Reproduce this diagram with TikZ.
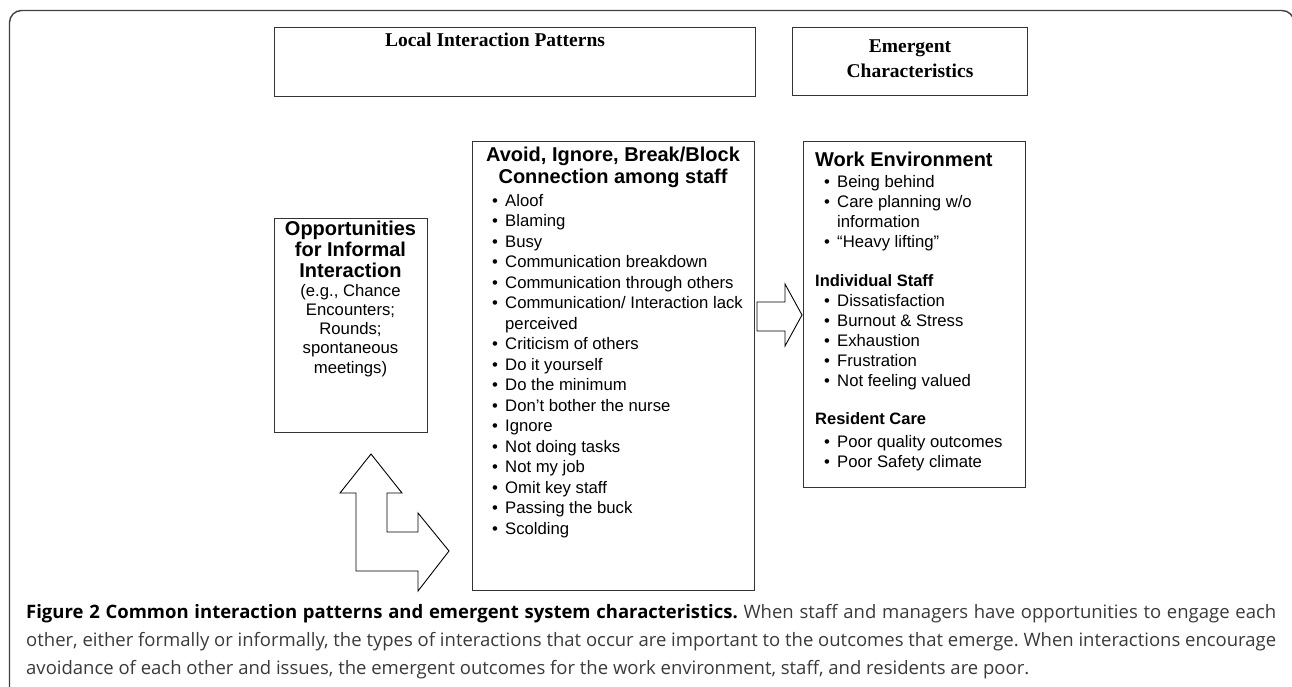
\documentclass[tikz,border=0pt]{standalone}
\usepackage{fontspec}
\setmainfont{Liberation Sans}
\newfontfamily\serifbox{Liberation Serif}
\newfontfamily\capfont{Open Sans}
\definecolor{boxline}{HTML}{333333}
\definecolor{capgrey}{HTML}{3A3A3A}
\tikzset{
  frame/.style={draw=black!75, line width=1.4pt, rounded corners=12pt},
  box/.style={draw=boxline, line width=1.2pt, inner sep=0pt, anchor=north west},
  fat/.style={draw=black, line width=0.9pt, fill=white, line join=miter},
  hdr/.style={font=\serifbox\fontsize{19.5}{25}\selectfont\bfseries, inner sep=0pt, anchor=base},
  ttl/.style={font=\fontsize{20}{22}\selectfont\bfseries, inner sep=0pt},
  sub/.style={font=\fontsize{16.5}{20}\selectfont\bfseries, inner sep=0pt, anchor=base west},
  itm/.style={font=\fontsize{16.7}{20}\selectfont, inner sep=0pt, anchor=base west},
  ctr/.style={font=\fontsize{16.7}{20}\selectfont, inner sep=0pt, anchor=base},
  bul/.style={font=\fontsize{16.7}{20}\selectfont, inner sep=0pt, anchor=base},
}
\newcommand\bitem[4]{\node[bul] (#1b) at (#2-10,#3) {•};\node[itm] (#1) at (#2,#3) {#4};}
\begin{document}
\begin{tikzpicture}[x=1pt,y=-1pt]
\useasboundingbox (0,0) rectangle (1292,686);
\clip (0,0) rectangle (1292,686);
% outer frame
\draw[frame] (9.5,720) -- (9.5,10.5) -- (1294,10.5) -- (1294,720);

% header boxes
\node[box, minimum width=481pt, minimum height=69pt] (lip) at (274,27) {};
\node[hdr] (liptxt) at (495,46) {Local Interaction Patterns};
\node[box, minimum width=235pt, minimum height=68pt] (emc) at (792,27) {};
\node[hdr] (emc1) at (910,52) {Emergent};
\node[hdr] (emc2) at (910,77) {Characteristics};

% left box
\node[box, minimum width=153pt, minimum height=214pt] (opp) at (274,218) {};
\node[ttl, anchor=base] (opp1) at (350.5,235) {Opportunities};
\node[ttl, anchor=base] (opp2) at (350.5,256) {for Informal};
\node[ttl, anchor=base] (opp3) at (350.5,277) {Interaction};
\node[ctr] (opp4) at (350.5,296) {(e.g., Chance};
\node[ctr] (opp5) at (350.5,315) {Encounters;};
\node[ctr] (opp6) at (350.5,334) {Rounds;};
\node[ctr] (opp7) at (350.5,353) {spontaneous};
\node[ctr] (opp8) at (350.5,373) {meetings)};

% middle box
\node[box, minimum width=282pt, minimum height=449pt] (mid) at (472,141) {};
\node[ttl, anchor=base] (mid1) at (613,161) {Avoid, Ignore, Break/Block};
\node[ttl, anchor=base] (mid2) at (613,183) {Connection among staff};
\bitem{m1}{505}{206}{Aloof}
\bitem{m2}{505}{226.5}{Blaming}
\bitem{m3}{505}{247}{Busy}
\bitem{m4}{505}{267.5}{Communication breakdown}
\bitem{m5}{505}{288}{Communication through others}
\bitem{m6}{505}{308.5}{Communication/ Interaction lack}
\node[itm] (m6c) at (505,329) {perceived};
\bitem{m7}{505}{349.5}{Criticism of others}
\bitem{m8}{505}{370}{Do it yourself}
\bitem{m9}{505}{390.5}{Do the minimum}
\bitem{m10}{505}{411}{Don't bother the nurse}
\bitem{m11}{505}{431.5}{Ignore}
\bitem{m12}{505}{452}{Not doing tasks}
\bitem{m13}{505}{472.5}{Not my job}
\bitem{m14}{505}{493}{Omit key staff}
\bitem{m15}{505}{513.5}{Passing the buck}
\bitem{m16}{505}{534}{Scolding}

% right box
\node[box, minimum width=222pt, minimum height=346pt] (res) at (803,141) {};
\node[ttl, anchor=base west] (r0) at (815,166) {Work Environment};
\bitem{r1}{837}{187}{Being behind}
\bitem{r2}{837}{207}{Care planning w/o}
\node[itm] (r2c) at (837,227) {information};
\bitem{r3}{837}{247}{“Heavy lifting”}
\node[sub] (r4) at (815,286) {Individual Staff};
\bitem{r5}{837}{306}{Dissatisfaction}
\bitem{r6}{837}{326}{Burnout \& Stress}
\bitem{r7}{837}{346}{Exhaustion}
\bitem{r8}{837}{366}{Frustration}
\bitem{r9}{837}{386}{Not feeling valued}
\node[sub] (r10) at (815,424) {Resident Care};
\bitem{r11}{837}{447}{Poor quality outcomes}
\bitem{r12}{837}{467}{Poor Safety climate}

% block arrow to the right
\draw[fat] (757,302) -- (785,302) -- (785,284) -- (802,315) -- (785,346) -- (785,331) -- (757,331) -- cycle;

% L-shaped double block arrow
\draw[fat] (371,454) -- (402,493) -- (387,493) -- (387,532) -- (418,532) -- (418,513)
  -- (449,551) -- (418,591) -- (418,571) -- (356,571) -- (356,493) -- (340,493) -- cycle;

% caption
\node[anchor=base west, inner sep=0pt, text width=1250pt, align=justify,
      font=\capfont\fontsize{18.5}{28}\selectfont, text=capgrey] (cap) at (26,618)
  {\frenchspacing\noindent{\bfseries\color{black}Figure 2 Common interaction patterns and emergent system characteristics.} When staff and managers have opportunities to engage each\linebreak other, either formally or informally, the types of interactions that occur are important to the outcomes that emerge. When interactions encourage\linebreak avoidance of each other and issues, the emergent outcomes for the work environment, staff, and residents are poor.};
\end{tikzpicture}
\end{document}
